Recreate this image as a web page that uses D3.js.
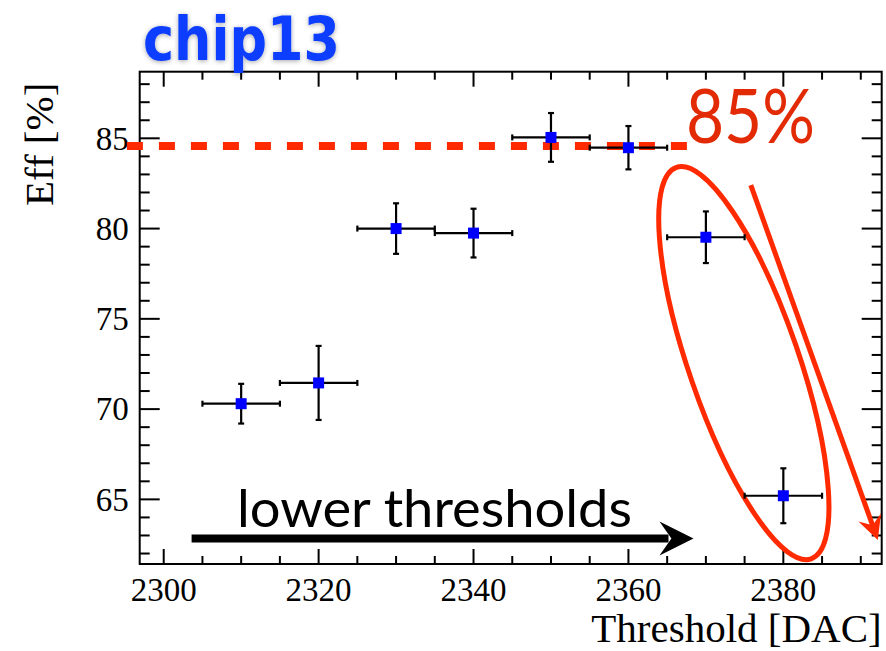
<!DOCTYPE html>
<html>
<head>
<meta charset="utf-8">
<script src="https://cdn.jsdelivr.net/npm/d3@7"></script>
<style>
    body { margin: 0; background: #fff; }
    svg { display: block; }
</style>
</head>
<body>
<div class="chart-container"></div>
<script>
// Data.
const thresholds = [2310, 2320, 2330, 2340, 2350, 2360, 2370, 2380];
const efficiency = [70.3, 71.45, 80.0, 79.75, 85.05, 84.48, 79.52, 65.2];
const effError = [1.1, 2.05, 1.4, 1.35, 1.35, 1.2, 1.43, 1.52];
const thrError = [5, 5, 5, 5, 5, 5, 5, 5];

const xTickLabels = [2300, 2320, 2340, 2360, 2380];
const yTickLabels = [65, 70, 75, 80, 85];

// Annotations, in data units.
const refLevel = 84.57;
const refLine = [2295.25, 2367.55];
const lowerArrow = [[2303.6, 62.83], [2368.4, 62.83]];
const dropArrow = [[2375.8, 82.41], [2392.2, 62.75]];
const ellipseCentre = [2374.9, 72.55];

const width = 886;
const height = 651;
const area = {left: 139.7, right: 881.7, top: 71.7, bottom: 564};

const svg = d3.select('.chart-container')
    .append('svg')
    .attr('width', width)
    .attr('height', height);

const x = d3.scaleLinear()
    .domain([2296.9, 2392.7])
    .range([area.left, area.right]);

const y = d3.scaleLinear()
    .domain([61.42, 88.69])
    .range([area.bottom, area.top]);

const points = thresholds.map((t, i) => ({
    x: t, y: efficiency[i], ey: effError[i], ex: thrError[i]
}));

// Ticks
const xMinor = d3.range(2300, 2392, 5);
const yMinor = d3.range(62, 89, 1);

function drawTicks() {
    const g = svg.append('g')
        .attr('stroke', '#000')
        .attr('stroke-width', 2);

    xMinor.forEach(v => {
        const len = v % 20 === 0 ? 15 : 8;
        g.append('line').attr('x1', x(v)).attr('x2', x(v))
            .attr('y1', area.bottom).attr('y2', area.bottom - len);
        g.append('line').attr('x1', x(v)).attr('x2', x(v))
            .attr('y1', area.top).attr('y2', area.top + len);
    });

    yMinor.forEach(v => {
        const len = v % 5 === 0 ? 20 : 10;
        g.append('line').attr('y1', y(v)).attr('y2', y(v))
            .attr('x1', area.left).attr('x2', area.left + len);
        g.append('line').attr('y1', y(v)).attr('y2', y(v))
            .attr('x1', area.right).attr('x2', area.right - len);
    });

    svg.append('rect')
        .attr('x', area.left)
        .attr('y', area.top)
        .attr('width', area.right - area.left)
        .attr('height', area.bottom - area.top)
        .attr('fill', 'none')
        .attr('stroke', '#000')
        .attr('stroke-width', 2);

    svg.append('g')
        .selectAll('text')
        .data(xTickLabels)
        .enter()
        .append('text')
        .attr('x', d => x(d))
        .attr('y', area.bottom + 37)
        .attr('text-anchor', 'middle')
        .style('font', '33px "Liberation Serif", serif')
        .text(d => d);

    svg.append('g')
        .selectAll('text')
        .data(yTickLabels)
        .enter()
        .append('text')
        .attr('x', area.left - 11)
        .attr('y', d => y(d))
        .attr('dy', '0.34em')
        .attr('text-anchor', 'end')
        .style('font', '33px "Liberation Serif", serif')
        .text(d => d);

    svg.append('text')
        .attr('x', area.right)
        .attr('y', 642)
        .attr('text-anchor', 'end')
        .style('font', '41px "Liberation Serif", serif')
        .text('Threshold [DAC]');

    svg.append('text')
        .attr('transform', `translate(53, ${area.top + 11}) rotate(-90)`)
        .attr('text-anchor', 'end')
        .style('font', '41px "Liberation Serif", serif')
        .text('Eff [%]');
}

function drawPoints() {
    const g = svg.append('g')
        .attr('stroke', '#000')
        .attr('stroke-width', 2.2);
    const cap = 3;

    points.forEach(d => {
        const cx = x(d.x), cy = y(d.y);
        const x0 = x(d.x - d.ex), x1 = x(d.x + d.ex);
        const y0 = y(d.y + d.ey), y1 = y(d.y - d.ey);
        g.append('line').attr('x1', x0).attr('x2', x1).attr('y1', cy).attr('y2', cy);
        g.append('line').attr('x1', cx).attr('x2', cx).attr('y1', y0).attr('y2', y1);
        g.append('line').attr('x1', x0).attr('x2', x0).attr('y1', cy - cap).attr('y2', cy + cap);
        g.append('line').attr('x1', x1).attr('x2', x1).attr('y1', cy - cap).attr('y2', cy + cap);
        g.append('line').attr('x1', cx - cap).attr('x2', cx + cap).attr('y1', y0).attr('y2', y0);
        g.append('line').attr('x1', cx - cap).attr('x2', cx + cap).attr('y1', y1).attr('y2', y1);
    });

    svg.append('g')
        .selectAll('rect')
        .data(points)
        .enter()
        .append('rect')
        .attr('x', d => x(d.x) - 5.5)
        .attr('y', d => y(d.y) - 5.5)
        .attr('width', 11)
        .attr('height', 11)
        .attr('fill', '#0000ff');
}

function arrowHead(from, to, length, half, color) {
    const ang = Math.atan2(to[1] - from[1], to[0] - from[0]);
    const bx = to[0] - length * Math.cos(ang);
    const by = to[1] - length * Math.sin(ang);
    const nx = -Math.sin(ang), ny = Math.cos(ang);
    svg.append('path')
        .attr('d', `M${to[0]},${to[1]} L${bx + half * nx},${by + half * ny} L${bx + 0.35 * length * Math.cos(ang)},${by + 0.35 * length * Math.sin(ang)} L${bx - half * nx},${by - half * ny} Z`)
        .attr('fill', color);
}

function drawAnnotations() {
    const red = '#ff2a00';

    // 85% reference line
    svg.append('line')
        .attr('x1', x(refLine[0]))
        .attr('x2', x(refLine[1]))
        .attr('y1', y(refLevel))
        .attr('y2', y(refLevel))
        .attr('stroke', red)
        .attr('stroke-width', 8)
        .attr('stroke-dasharray', '16 16');

    svg.append('text')
        .attr('x', x(refLine[1]) - 1)
        .attr('y', 143)
        .attr('textLength', 129)
        .attr('lengthAdjust', 'spacingAndGlyphs')
        .style('font', '76px Lato, sans-serif')
        .attr('fill', '#e22a05')
        .text('85%');

    // ellipse around the last two points
    svg.append('ellipse')
        .attr('cx', x(ellipseCentre[0]))
        .attr('cy', y(ellipseCentre[1]))
        .attr('rx', 55)
        .attr('ry', 207)
        .attr('transform', `rotate(-19, ${x(ellipseCentre[0])}, ${y(ellipseCentre[1])})`)
        .attr('fill', 'none')
        .attr('stroke', red)
        .attr('stroke-width', 5);

    // falling arrow
    const a0 = [x(dropArrow[0][0]), y(dropArrow[0][1])];
    const a1 = [x(dropArrow[1][0]), y(dropArrow[1][1])];
    const ang = Math.atan2(a1[1] - a0[1], a1[0] - a0[0]);
    svg.append('line')
        .attr('x1', a0[0]).attr('y1', a0[1])
        .attr('x2', a1[0] - 14 * Math.cos(ang)).attr('y2', a1[1] - 14 * Math.sin(ang))
        .attr('stroke', red)
        .attr('stroke-width', 5);
    arrowHead(a0, a1, 24, 12, red);

    // lower thresholds arrow
    const b0 = [x(lowerArrow[0][0]), y(lowerArrow[0][1])];
    const b1 = [x(lowerArrow[1][0]), y(lowerArrow[1][1])];
    svg.append('line')
        .attr('x1', b0[0]).attr('y1', b0[1])
        .attr('x2', b1[0] - 25).attr('y2', b1[1])
        .attr('stroke', '#000')
        .attr('stroke-width', 8);
    arrowHead(b0, b1, 34, 17, '#000');

    svg.append('text')
        .attr('x', 237)
        .attr('y', 527)
        .attr('textLength', 395)
        .attr('lengthAdjust', 'spacingAndGlyphs')
        .style('font', '53px Lato, sans-serif')
        .attr('fill', '#000')
        .text('lower thresholds');
}

function drawHeader() {
    const defs = svg.append('defs');
    const filter = defs.append('filter')
        .attr('id', 'glow')
        .attr('filterUnits', 'userSpaceOnUse')
        .attr('x', 120).attr('y', 0)
        .attr('width', 250).attr('height', 100);
    filter.append('feDropShadow')
        .attr('dx', 0).attr('dy', 1)
        .attr('stdDeviation', 2.5)
        .attr('flood-color', '#000')
        .attr('flood-opacity', 0.35);

    svg.append('text')
        .attr('x', 143)
        .attr('y', 60)
        .attr('textLength', 197)
        .attr('lengthAdjust', 'spacingAndGlyphs')
        .attr('filter', 'url(#glow)')
        .style('font', 'bold 60px "DejaVu Sans", sans-serif')
        .attr('fill', '#0a3cff')
        .text('chip13');
}

drawTicks();
drawAnnotations();
drawPoints();
drawHeader();
</script>
</body>
</html>
